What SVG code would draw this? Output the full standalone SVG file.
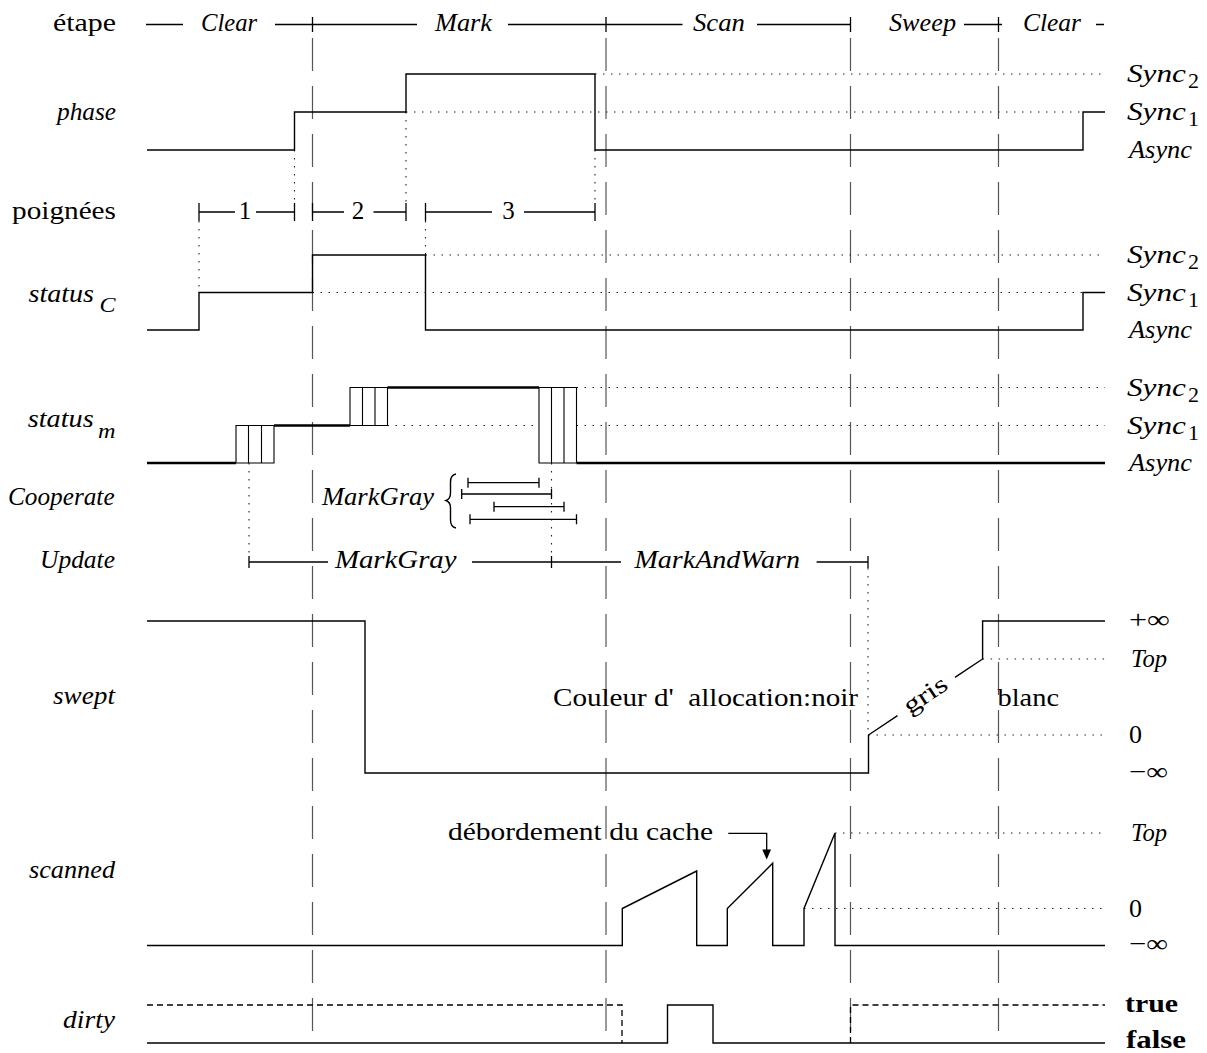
<svg xmlns="http://www.w3.org/2000/svg" width="1207" height="1053" viewBox="0 0 1207 1053">
<style>
text { font-family: "Liberation Serif", "Times New Roman", serif; font-size: 25px; fill: #000; white-space: pre; }
.i { font-style: italic; }
.b { font-weight: bold; }
.sub { font-size: 22px; }
.sig { fill: none; stroke: #000; stroke-width: 1.4; }
.thick { fill: none; stroke: #000; stroke-width: 2.6; }
.thin { fill: none; stroke: #000; stroke-width: 1.1; }
.dot { fill: none; stroke: #222; stroke-width: 1.1; stroke-dasharray: 1.5 6.5; }
.stage { fill: none; stroke: #555; stroke-width: 1.2; stroke-dasharray: 33 15; }
.dash { fill: none; stroke: #000; stroke-width: 1.3; stroke-dasharray: 6 4; }
.tick { fill: none; stroke: #000; stroke-width: 1.3; }
</style>

<g id="connectors">
  <g id="stage-lines">
    <line class="stage" x1="312.5" y1="38" x2="312.5" y2="1031"/>
    <line class="stage" x1="606" y1="38" x2="606" y2="1031"/>
    <line class="stage" x1="850.5" y1="38" x2="850.5" y2="1031"/>
    <line class="stage" x1="998.5" y1="38" x2="998.5" y2="1031"/>
  </g>
  <g id="guides">
    <line class="dot" x1="294.5" y1="150" x2="294.5" y2="203"/>
    <line class="dot" x1="406" y1="112" x2="406" y2="203"/>
    <line class="dot" x1="595" y1="150" x2="595" y2="203"/>
    <line class="dot" x1="199" y1="221" x2="199" y2="292.5"/>
    <line class="dot" x1="425.5" y1="221" x2="425.5" y2="255"/>
    <line class="dot" x1="249" y1="463" x2="249" y2="556"/>
    <line class="dot" x1="551.5" y1="463" x2="551.5" y2="556"/>
    <line class="dot" x1="868" y1="568" x2="868" y2="735"/>
  </g>
</g>

<g id="etape">
  <text x="53" y="31" textLength="63" lengthAdjust="spacingAndGlyphs">étape</text>
  <path class="tick" d="M146,24.5 H183 M275,24.5 H417 M508,24.5 H682.5 M757,24.5 H850.5 M964,24.5 H1002 M1096,24.5 H1104"/>
  <path class="tick" d="M312.5,17 V32 M606,17 V32 M850.5,17 V32 M998.5,17 V32"/>
  <text class="i" x="201" y="31" textLength="56" lengthAdjust="spacingAndGlyphs">Clear</text>
  <text class="i" x="435" y="31" textLength="57" lengthAdjust="spacingAndGlyphs">Mark</text>
  <text class="i" x="693" y="31" textLength="52" lengthAdjust="spacingAndGlyphs">Scan</text>
  <text class="i" x="889" y="31" textLength="67" lengthAdjust="spacingAndGlyphs">Sweep</text>
  <text class="i" x="1023" y="31" textLength="58" lengthAdjust="spacingAndGlyphs">Clear</text>
</g>

<g id="phase">
  <text class="i" x="57" y="120" textLength="59" lengthAdjust="spacingAndGlyphs">phase</text>
  <path class="dot" d="M595,74 H1105 M406,112 H1083"/>
  <path class="sig" d="M147,150 H294.5 V112 H406 V74 H595 V150 H1083 V112 H1105"/>
  <text class="i" x="1127" y="82" textLength="59" lengthAdjust="spacingAndGlyphs">Sync</text>
  <text class="sub" x="1188" y="88">2</text>
  <text class="i" x="1127" y="120" textLength="59" lengthAdjust="spacingAndGlyphs">Sync</text>
  <text class="sub" x="1188" y="126">1</text>
  <text class="i" x="1129" y="158" textLength="63" lengthAdjust="spacingAndGlyphs">Async</text>
</g>

<g id="poignees">
  <text x="12" y="219" textLength="104" lengthAdjust="spacingAndGlyphs">poignées</text>
  <path class="tick" d="M199,212 H235 M256,212 H294.5 M312.5,212 H344 M373.5,212 H406 M425.5,212 H492 M524,212 H595"/>
  <path class="tick" d="M199,203 V221 M294.5,203 V221 M312.5,203 V221 M406,203 V221 M425.5,203 V221 M595,203 V221"/>
  <text x="245" y="219" text-anchor="middle">1</text>
  <text x="358" y="219" text-anchor="middle">2</text>
  <text x="508.5" y="219" text-anchor="middle">3</text>
</g>

<g id="statusC">
  <text class="i" x="28.5" y="302" textLength="65.5" lengthAdjust="spacingAndGlyphs">status</text>
  <text class="i sub" x="99.5" y="312" textLength="16" lengthAdjust="spacingAndGlyphs">C</text>
  <path class="dot" d="M425.5,255 H1105 M312.5,292.5 H1083"/>
  <path class="sig" d="M147,330 H199 V292.5 H312.5 V255 H425.5 V330 H1083 V292.5 H1105"/>
  <text class="i" x="1127" y="263" textLength="59" lengthAdjust="spacingAndGlyphs">Sync</text>
  <text class="sub" x="1188" y="269">2</text>
  <text class="i" x="1127" y="300.5" textLength="59" lengthAdjust="spacingAndGlyphs">Sync</text>
  <text class="sub" x="1188" y="306.5">1</text>
  <text class="i" x="1129" y="338" textLength="63" lengthAdjust="spacingAndGlyphs">Async</text>
</g>

<g id="statusM">
  <text class="i" x="27.7" y="427" textLength="66" lengthAdjust="spacingAndGlyphs">status</text>
  <text class="i sub" x="98" y="438" textLength="17.5" lengthAdjust="spacingAndGlyphs">m</text>
  <path class="dot" d="M387.5,425.5 H539 M576.5,425.5 H1105 M576.5,387.5 H1105"/>
  <path class="thin" d="M236,425.5 H274 V463 H236 Z M248.5,425.5 V463 M261.5,425.5 V463"/>
  <path class="thin" d="M350,387.5 H387.5 V425.5 H350 Z M362.5,387.5 V425.5 M375,387.5 V425.5"/>
  <path class="thin" d="M539,387.5 H576.5 V463 H539 Z M551.5,387.5 V463 M564,387.5 V463"/>
  <path class="thick" d="M147,463 H236 M274,425.5 H350 M387.5,387.5 H539 M576.5,463 H1105"/>
  <text class="i" x="1127" y="395.5" textLength="59" lengthAdjust="spacingAndGlyphs">Sync</text>
  <text class="sub" x="1188" y="401.5">2</text>
  <text class="i" x="1127" y="433.5" textLength="59" lengthAdjust="spacingAndGlyphs">Sync</text>
  <text class="sub" x="1188" y="439.5">1</text>
  <text class="i" x="1129" y="471" textLength="63" lengthAdjust="spacingAndGlyphs">Async</text>
</g>

<g id="cooperate">
  <text class="i" x="8" y="505" textLength="106.6" lengthAdjust="spacingAndGlyphs">Cooperate</text>
  <text class="i" x="322" y="505" textLength="112" lengthAdjust="spacingAndGlyphs">MarkGray</text>
  <path class="sig" d="M456,474 Q450.5,475 450.5,482 V493 Q450.5,499 446,500.5 Q450.5,502 450.5,508 V520 Q450.5,527 456,528"/>
  <path class="tick" d="M468,482.7 H539 M468,477.7 V487.7 M539,477.7 V487.7"/>
  <path class="tick" d="M461.7,494 H551.5 M461.7,489 V499 M551.5,489 V499"/>
  <path class="tick" d="M494,506.7 H564 M494,501.7 V511.7 M564,501.7 V511.7"/>
  <path class="tick" d="M470,519.3 H576.5 M470,514.3 V524.3 M576.5,514.3 V524.3"/>
</g>

<g id="update">
  <text class="i" x="40" y="568" textLength="75" lengthAdjust="spacingAndGlyphs">Update</text>
  <path class="tick" d="M249,562 H328 M472,562 H621 M816.6,562 H868"/>
  <path class="tick" d="M249,556 V568 M551.5,556 V568 M868,556 V568"/>
  <text class="i" x="335" y="568" textLength="121.5" lengthAdjust="spacingAndGlyphs">MarkGray</text>
  <text class="i" x="634.5" y="568" textLength="165.5" lengthAdjust="spacingAndGlyphs">MarkAndWarn</text>
</g>

<g id="swept">
  <text class="i" x="53" y="704" textLength="62" lengthAdjust="spacingAndGlyphs">swept</text>
  <path class="dot" d="M982.6,659 H1105 M868.5,735 H1105"/>
  <path class="sig" d="M147,621 H365 V773 H868.5 V735 L897.5,715.7 M955,677.4 L982.6,659 V621 H1105"/>
  <text x="553" y="706" textLength="305" lengthAdjust="spacingAndGlyphs">Couleur d'  allocation:noir</text>
  <text x="997.5" y="706" textLength="61.5" lengthAdjust="spacingAndGlyphs">blanc</text>
  <text transform="translate(926.3,696.5) rotate(-33.66)" x="0" y="6" text-anchor="middle" textLength="48" lengthAdjust="spacingAndGlyphs">gris</text>
  <text x="1129" y="628" textLength="41" lengthAdjust="spacingAndGlyphs">+∞</text>
  <text class="i" x="1131" y="667" textLength="36" lengthAdjust="spacingAndGlyphs">Top</text>
  <text x="1129" y="743" textLength="13" lengthAdjust="spacingAndGlyphs">0</text>
  <text x="1129" y="780" textLength="39" lengthAdjust="spacingAndGlyphs">−∞</text>
</g>

<g id="scanned">
  <text class="i" x="29" y="878" textLength="86" lengthAdjust="spacingAndGlyphs">scanned</text>
  <path class="dot" d="M835,833 H1105 M804,908.5 H1105"/>
  <path class="sig" d="M147,945.5 H622.3 V908.5 L696.7,871 V945.5 H727.3 V908.5 L772.7,863.3 V945.5 H804 V908.5 L835,833 V945.5 H1105"/>
  <text x="448" y="840" textLength="265" lengthAdjust="spacingAndGlyphs">débordement du cache</text>
  <path class="tick" d="M728.3,833.3 H766.7 V851"/>
  <polygon points="762.3,849.5 771.1,849.5 766.7,859.5" fill="#000"/>
  <text class="i" x="1131" y="841" textLength="36" lengthAdjust="spacingAndGlyphs">Top</text>
  <text x="1129" y="917" textLength="13" lengthAdjust="spacingAndGlyphs">0</text>
  <text x="1129" y="952" textLength="39" lengthAdjust="spacingAndGlyphs">−∞</text>
</g>

<g id="dirty">
  <text class="i" x="63" y="1028" textLength="52" lengthAdjust="spacingAndGlyphs">dirty</text>
  <path class="dash" d="M147,1005 H622 V1043 M850.5,1043 V1005 H1105"/>
  <path class="sig" d="M147,1043 H667.5 V1005 H713 V1043 H1105"/>
  <text class="b" x="1125" y="1012" textLength="53" lengthAdjust="spacingAndGlyphs">true</text>
  <text class="b" x="1126" y="1048" textLength="60" lengthAdjust="spacingAndGlyphs">false</text>
</g>
</svg>
